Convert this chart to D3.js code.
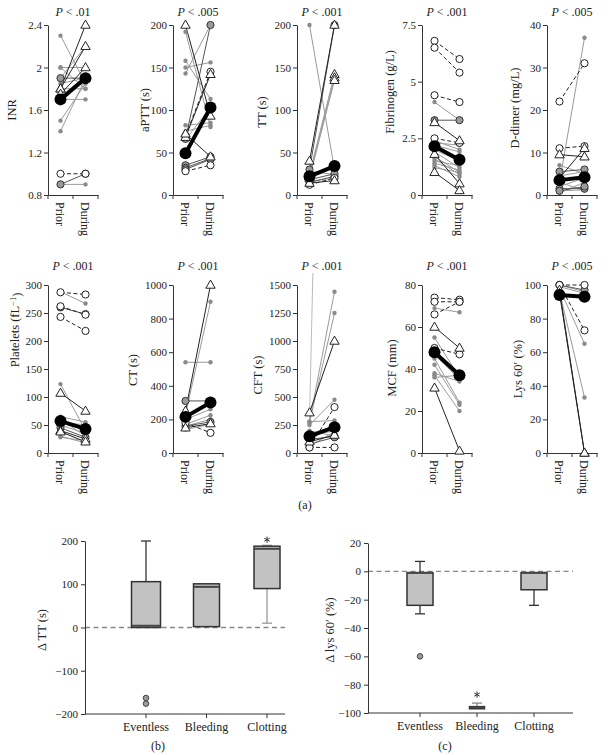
<!DOCTYPE html>
<html><head><meta charset="utf-8">
<script src="https://cdn.jsdelivr.net/npm/d3@7"></script>
<style>
body{margin:0;background:#fff}
svg, svg text{font-family:"Liberation Serif","Times New Roman",serif}
text{fill:#222}
</style>
</head><body>
<svg id="c" width="614" height="755" font-family="Liberation Serif"></svg>
<script>
// ---------- DATA: [prior, during, marker type] ----------
const INR = [[2.3,1.85,"dot"],[2.0,2.0,"dot"],[2.0,1.8,"dot"],[1.9,1.9,"gcircle"],[1.9,2.2,"dot"],[1.85,1.9,"dot"],
  [1.8,2.4,"tri"],[1.8,2.2,"tri"],[1.75,2.0,"tri"],[1.8,1.8,"dot"],[1.7,1.7,"dot"],[1.5,1.85,"dot"],[1.4,1.9,"dot"],
  [1.0,1.0,"circle"],[0.9,1.0,"gcircle"],[0.9,0.9,"dot"]];
const INR_MEAN = [1.7,1.9];
const APTT = [[200,93,"tri"],[192,80,"dot"],[158,113,"dot"],[150,156,"dot"],[143,200,"dot"],[66,200,"gcircle"],
  [70,145,"circle"],[68,142,"tri"],[82,85,"dot"],[72,45,"tri"],[65,103,"dot"],[75,82,"dot"],
  [35,45,"gcircle"],[32,43,"gcircle"],[30,42,"gcircle"],[28,35,"circle"]];
const APTT_MEAN = [49,103];
const TT = [[200,30,"dot"],[40,200,"tri"],[30,200,"gcircle"],[25,142,"gtri"],[22,138,"gtri"],[20,135,"gtri"],
  [15,22,"gcircle"],[12,20,"circle"],[18,25,"gcircle"],[14,17,"tri"],[20,35,"gcircle"],[28,24,"dot"],[16,20,"dot"]];
const TT_MEAN = [22,34];
const FIB = [[6.8,6.0,"circle"],[6.5,5.4,"circle"],[4.4,4.1,"circle"],[4.1,3.3,"dot"],[3.3,3.3,"gcircle"],[3.2,2.4,"tri"],
  [2.5,2.3,"circle"],[1.8,0.5,"tri"],[1.0,0.2,"tri"],[2.4,2.0,"dot"],[2.3,2.2,"dot"],[2.2,1.9,"dot"],[2.0,1.5,"dot"],
  [1.9,1.2,"dot"],[1.7,1.0,"dot"],[1.6,0.9,"dot"],[1.5,1.3,"dot"],[1.4,1.1,"dot"],[1.3,0.8,"dot"],[1.2,1.0,"dot"]];
const FIB_MEAN = [2.15,1.55];
const DDIM = [[3,37,"dot"],[22,31,"circle"],[11,11.5,"circle"],[9.5,9,"tri"],[4,11,"tri"],[7,5,"dot"],[5.5,6,"gcircle"],
  [1.5,1.5,"gcircle"],[1,2,"gcircle"],[0.5,3,"dot"],[2,4,"dot"],[3,1,"dot"],[1,1.2,"dot"],[4.5,5.5,"dot"]];
const DDIM_MEAN = [3.5,4.2];
const PLT = [[287,283,"circle"],[288,267,"dot"],[262,247,"circle"],[260,248,"gcircle"],[243,218,"circle"],[123,40,"dot"],
  [107,75,"tri"],[65,55,"dot"],[60,30,"dot"],[40,25,"tri"],[38,20,"tri"],[30,18,"dot"],[28,22,"dot"],[50,35,"dot"],
  [45,28,"gcircle"],[55,50,"dot"]];
const PLT_MEAN = [57,43];
const CT = [[250,1000,"tri"],[230,900,"dot"],[540,540,"dot"],[310,310,"gcircle"],[160,185,"gcircle"],[150,175,"tri"],
  [140,170,"dot"],[180,120,"circle"],[200,260,"dot"],[170,225,"dot"],[210,300,"gcircle"],[160,200,"dot"]];
const CT_MEAN = [215,300];
const CFT = [[300,10000,"gline"],[360,1000,"tri"],[280,1440,"dot"],[270,1250,"dot"],[280,290,"dot"],[250,475,"dot"],
  [50,410,"circle"],[50,50,"circle"],[100,160,"tri"],[120,150,"gcircle"],[80,140,"gcircle"],[150,200,"dot"],
  [200,150,"dot"],[60,190,"dot"]];
const CFT_MEAN = [150,230];
const MCF = [[74,73,"circle"],[72,72,"circle"],[69,67,"dot"],[66,72,"circle"],[60,50,"tri"],[50,47,"circle"],
  [55,36,"dot"],[45,24,"dot"],[42,23,"dot"],[38,34,"dot"],[37,20,"dot"],[36,37,"dot"],[47,35,"dot"],[31,1,"tri"]];
const MCF_MEAN = [48,37];
const LYS = [[100,100,"circle"],[100,73,"circle"],[98,65,"dot"],[96,33,"dot"],[97,0,"tri"],[95,0,"tri"],
  [100,97,"gcircle"],[99,95,"dot"],[100,96,"dot"]];
const LYS_MEAN = [94,93];

const PHASES = ["Prior","During"];
const TICKS = [[0.8,1.2,1.6,2,2.4],[0,50,100,150,200],[0,50,100,150,200],[0,2.5,5,7.5],[0,10,20,30,40],
  [0,50,100,150,200,250,300],[0,200,400,600,800,1000],[0,250,500,750,1000,1250,1500],[0,20,40,60,80],[0,20,40,60,80,100]];
// label parts: [text, superscript, tail]
const LABELS = [["INR"],["aPTT (s)"],["TT (s)"],["Fibrinogen (g/L)"],["D-dimer (mg/L)"],
  ["Platelets (fL","\u22121",")"],["CT (s)"],["CFT (s)"],["MCF (mm)"],["Lys 60\u2032 (%)"]];
const PVALS = [".01",".005",".001",".001",".005",".001",".001",".001",".001",".005"];
const SERIES = [INR,APTT,TT,FIB,DDIM,PLT,CT,CFT,MCF,LYS];
const MEANS = [INR_MEAN,APTT_MEAN,TT_MEAN,FIB_MEAN,DDIM_MEAN,PLT_MEAN,CT_MEAN,CFT_MEAN,MCF_MEAN,LYS_MEAN];

// Box plots
const GROUPS = ["Eventless","Bleeding","Clotting"];
const dTT_lo  = [0, 2, 10];
const dTT_q1  = [0, 2, 90];
const dTT_med = [4, 94, 182];
const dTT_q3  = [106, 101, 188];
const dTT_hi  = [200, 101, 190];
const dTT_out = [[-163,-176],[],[]];
const dTT_star = [null, null, 203];
const dTT_ticks = [-200,-100,0,100,200];
const dLys_lo  = [-30, -97, -24];
const dLys_q1  = [-24, -97, -13];
const dLys_med = [-1, -96, -1];
const dLys_q3  = [-1, -95.5, -1];
const dLys_hi  = [7, -93, -1];
const dLys_out = [[-60],[],[]];
const dLys_star = [null, -87, null];
const dLys_ticks = [-100,-80,-60,-40,-20,0,20];

// ---------- LAYOUT ----------
const FONT = "Liberation Serif";
const svg = d3.select("#c");
const colX = [48,173,297,422,547];
const rows = [{top:25,bot:195,pY:16},{top:285,bot:453,pY:270}];
const plotW = 50;
const labelOff = [36,28,35,32,32,33,40,39,30,29];
const labelY = [110,110,112,92,108,330,370,375,368,369];

const lineStyle = {
  dot:{stroke:"#9a9a9a",w:1,dash:null},
  circle:{stroke:"#222",w:1,dash:"4,2.5"},
  gcircle:{stroke:"#555",w:1,dash:null},
  tri:{stroke:"#222",w:1,dash:null},
  gtri:{stroke:"#999",w:1,dash:null},
  gline:{stroke:"#bbb",w:1,dash:null}
};
function drawMarker(g,cx,cy,type){
  if(type==="dot") g.append("circle").attr("cx",cx).attr("cy",cy).attr("r",2.2).attr("fill","#8a8a8a");
  else if(type==="circle") g.append("circle").attr("cx",cx).attr("cy",cy).attr("r",3.6).attr("fill","#fff").attr("stroke","#222").attr("stroke-width",1);
  else if(type==="gcircle") g.append("circle").attr("cx",cx).attr("cy",cy).attr("r",3.6).attr("fill","#9a9a9a").attr("stroke","#333").attr("stroke-width",1);
  else if(type==="tri"||type==="gtri") g.append("path").attr("d",d3.symbol(d3.symbolTriangle,38)()).attr("transform",`translate(${cx},${cy+0.5})`).attr("fill","#fff").attr("stroke","#222").attr("stroke-width",1);
}
function styleText(sel,size){ sel.attr("font-family",FONT).style("font-family",FONT).style("font-size",size).attr("fill","#222"); }

SERIES.forEach((data,i)=>{
  const r = rows[Math.floor(i/5)], x0 = colX[i%5];
  const xb = d3.scaleBand().domain(PHASES).range([x0,x0+plotW]);
  const xc = d => xb(d)+xb.bandwidth()/2;
  const y = d3.scaleLinear().domain([TICKS[i][0],TICKS[i][TICKS[i].length-1]]).range([r.bot,r.top]);
  const g = svg.append("g");
  const cid = "clip"+i;
  svg.append("clipPath").attr("id",cid).append("rect").attr("x",x0).attr("y",r.top-12).attr("width",plotW+8).attr("height",r.bot-r.top+20);
  const ya = g.append("g").attr("transform",`translate(${x0},0)`)
    .call(d3.axisLeft(y).tickValues(TICKS[i]).tickSize(4).tickSizeOuter(0).tickFormat(d3.format("")));
  ya.attr("font-family",FONT);
  ya.select(".domain").attr("stroke","#333");
  ya.selectAll(".tick line").attr("stroke","#333");
  styleText(ya.selectAll("text").attr("x",-6),"11px");
  const xa = g.append("g").attr("transform",`translate(0,${r.bot})`)
    .call(d3.axisBottom(xb).tickSize(0).tickSizeOuter(0));
  xa.attr("font-family",FONT);
  xa.select(".domain").attr("stroke","#333");
  styleText(xa.selectAll("text").attr("y",0).attr("x",7).attr("dy","0.35em").attr("transform","rotate(90)")
    .style("text-anchor","start"),"12px");
  const bounds = [xb.range()[0], xb.range()[0]+xb.step(), xb.range()[1]];
  g.selectAll(".bt").data(bounds).enter().append("line").attr("x1",d=>d).attr("x2",d=>d)
    .attr("y1",r.bot).attr("y2",r.bot+4).attr("stroke","#333");
  // y label
  const lt = g.append("text").attr("transform",`translate(${x0-labelOff[i]},${labelY[i]}) rotate(-90)`)
    .attr("text-anchor","middle").attr("dy","0.35em");
  styleText(lt,"12.5px");
  lt.append("tspan").text(LABELS[i][0]);
  if(LABELS[i].length>1){
    lt.append("tspan").attr("dy","-0.4em").style("font-size","8.5px").text(LABELS[i][1]);
    lt.append("tspan").attr("dy","0.4em").text(LABELS[i][2]);
  }
  const pt = g.append("text").attr("x",x0+plotW/2).attr("y",r.pY).attr("text-anchor","middle");
  styleText(pt,"12px");
  pt.append("tspan").style("font-style","italic").text("P");
  pt.append("tspan").text(" < "+PVALS[i]);
  const dg = g.append("g").attr("clip-path",`url(#${cid})`);
  const order = ["gline","dot","gtri","gcircle","circle","tri"];
  const sorted = data.slice().sort((a,b)=>order.indexOf(a[2])-order.indexOf(b[2]));
  sorted.forEach(d=>{
    const st = lineStyle[d[2]];
    dg.append("line").attr("x1",xc("Prior")).attr("x2",xc("During")).attr("y1",y(d[0])).attr("y2",y(d[1]))
      .attr("stroke",st.stroke).attr("stroke-width",st.w).attr("stroke-dasharray",st.dash);
  });
  sorted.forEach(d=>{
    drawMarker(dg,xc("Prior"),y(d[0]),d[2]);
    drawMarker(dg,xc("During"),y(d[1]),d[2]);
  });
  const m = MEANS[i];
  dg.append("line").attr("x1",xc("Prior")).attr("x2",xc("During")).attr("y1",y(m[0])).attr("y2",y(m[1]))
    .attr("stroke","#000").attr("stroke-width",4);
  PHASES.forEach((p,k)=>dg.append("circle").attr("cx",xc(p)).attr("cy",y(m[k])).attr("r",6).attr("fill","#000"));
});
styleText(svg.append("text").attr("x",305).attr("y",509).attr("text-anchor","middle").text("(a)"),"12px");

// ---------- BOX PLOTS ----------
function boxPlot(cfg){
  const y = d3.scaleLinear().domain(cfg.domain).range([cfg.bot,cfg.top]);
  const x = d3.scalePoint().domain(GROUPS).range(cfg.xr);
  const g = svg.append("g");
  g.append("line").attr("x1",cfg.ax0).attr("x2",cfg.ax1).attr("y1",y(0)).attr("y2",y(0))
    .attr("stroke","#888").attr("stroke-width",1.3).attr("stroke-dasharray","5,3.5");
  const ya = g.append("g").attr("transform",`translate(${cfg.ax0},0)`)
    .call(d3.axisLeft(y).tickValues(cfg.ticks).tickSize(4).tickSizeOuter(0));
  ya.attr("font-family",FONT);
  ya.select(".domain").attr("stroke","#333");
  ya.selectAll(".tick line").attr("stroke","#333");
  styleText(ya.selectAll("text").attr("x",-7),"11px");
  g.append("line").attr("x1",cfg.ax0).attr("x2",cfg.ax1).attr("y1",cfg.bot).attr("y2",cfg.bot).attr("stroke","#333");
  GROUPS.forEach((c,i)=>{
    const cx = x(c);
    g.append("line").attr("x1",cx).attr("x2",cx).attr("y1",cfg.bot).attr("y2",cfg.bot+4).attr("stroke","#333");
    styleText(g.append("text").attr("x",cx).attr("y",cfg.bot+17).attr("text-anchor","middle").text(c),"12px");
    const bw = cfg.bw[i], wc = cfg.wcol[i];
    if(cfg.hi[i]>cfg.q3[i]){
      g.append("line").attr("x1",cx).attr("x2",cx).attr("y1",y(cfg.q3[i])).attr("y2",y(cfg.hi[i])).attr("stroke",wc).attr("stroke-width",1.3);
      g.append("line").attr("x1",cx-5).attr("x2",cx+5).attr("y1",y(cfg.hi[i])).attr("y2",y(cfg.hi[i])).attr("stroke",wc).attr("stroke-width",1.3);
    }
    if(cfg.lo[i]<cfg.q1[i]){
      g.append("line").attr("x1",cx).attr("x2",cx).attr("y1",y(cfg.q1[i])).attr("y2",y(cfg.lo[i])).attr("stroke",wc).attr("stroke-width",1.3);
      g.append("line").attr("x1",cx-5).attr("x2",cx+5).attr("y1",y(cfg.lo[i])).attr("y2",y(cfg.lo[i])).attr("stroke",wc).attr("stroke-width",1.3);
    }
    g.append("rect").attr("x",cx-bw/2).attr("width",bw).attr("y",y(cfg.q3[i])).attr("height",Math.max(1,y(cfg.q1[i])-y(cfg.q3[i])))
      .attr("fill","#c2c2c2").attr("stroke","#333").attr("stroke-width",1.5);
    g.append("line").attr("x1",cx-bw/2).attr("x2",cx+bw/2).attr("y1",y(cfg.med[i])).attr("y2",y(cfg.med[i]))
      .attr("stroke","#444").attr("stroke-width",2);
    cfg.out[i].forEach(v=>g.append("circle").attr("cx",cx).attr("cy",y(v)).attr("r",2.8)
      .attr("fill","#9a9a9a").attr("stroke","#444").attr("stroke-width",1));
    if(cfg.star[i]!==null) g.append("path").attr("d",d3.symbol(d3.symbolAsterisk,28)())
      .attr("transform",`translate(${cx},${y(cfg.star[i])})`).attr("fill","none").attr("stroke","#333").attr("stroke-width",1);
  });
  styleText(g.append("text").attr("transform",`translate(${cfg.lx},${cfg.ly}) rotate(-90)`).attr("text-anchor","middle")
    .attr("dy","0.35em").text(cfg.label),"12.5px");
  styleText(g.append("text").attr("x",cfg.tag[0]).attr("y",cfg.tag[1]).attr("text-anchor","middle").text(cfg.tagText),"12px");
}
boxPlot({domain:[-200,200],ticks:dTT_ticks,top:541,bot:714,ax0:85,ax1:285,xr:[146,267],
  lo:dTT_lo,q1:dTT_q1,med:dTT_med,q3:dTT_q3,hi:dTT_hi,out:dTT_out,star:dTT_star,bw:[29,26,26],
  wcol:["#333","#333","#999"],label:"\u0394 TT (s)",lx:42,ly:630,tag:[158,750],tagText:"(b)"});
boxPlot({domain:[-100,20],ticks:dLys_ticks,top:543,bot:713,ax0:368,ax1:573,xr:[420,534],
  lo:dLys_lo,q1:dLys_q1,med:dLys_med,q3:dLys_q3,hi:dLys_hi,out:dLys_out,star:dLys_star,bw:[26,15,26],
  wcol:["#333","#888","#333"],label:"\u0394 lys 60\u2032 (%)",lx:330,ly:630,tag:[445,750],tagText:"(c)"});
</script>
</body></html>
